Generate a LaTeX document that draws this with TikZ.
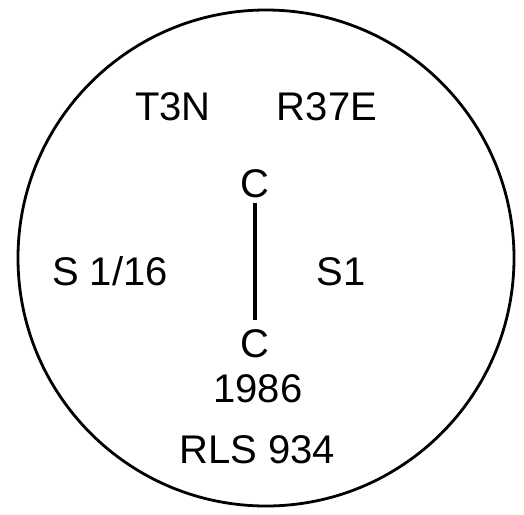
\documentclass[tikz,border=0pt]{standalone}
\usepackage{fontspec}
\setmainfont{Liberation Sans}
\usetikzlibrary{positioning}

\begin{document}
\begin{tikzpicture}[
  x=1pt, y=-1pt,
  font=\fontsize{40}{47}\selectfont,
  lbl/.style={anchor=base, inner sep=0pt},
  ring/.style={line width=2.8pt},
  bond/.style={line width=3.6pt, shorten <=5pt, shorten >=9pt}
]
  \useasboundingbox (0,0) rectangle (524,514);

  % outer circle
  \draw[ring] (266,258) circle[radius=248];

  % labels round the bond
  \node[lbl] (t3n)  at (173,120) {T3N};
  \node[lbl] (r37e) at (327,120) {R37E};
  \node[lbl] (ctop) at (255,197) {C};
  \node[lbl] (s116) at (110,285) {S 1/16};
  \node[lbl] (s1)   at (341,285) {S1};
  \node[lbl] (cbot) at (255,357) {C};
  \node[lbl] (year) at (258,402) {1986};
  \node[lbl] (rls)  at (257,463) {RLS 934};

  \draw[bond] (ctop.south) -- (cbot.north);
\end{tikzpicture}
\end{document}
